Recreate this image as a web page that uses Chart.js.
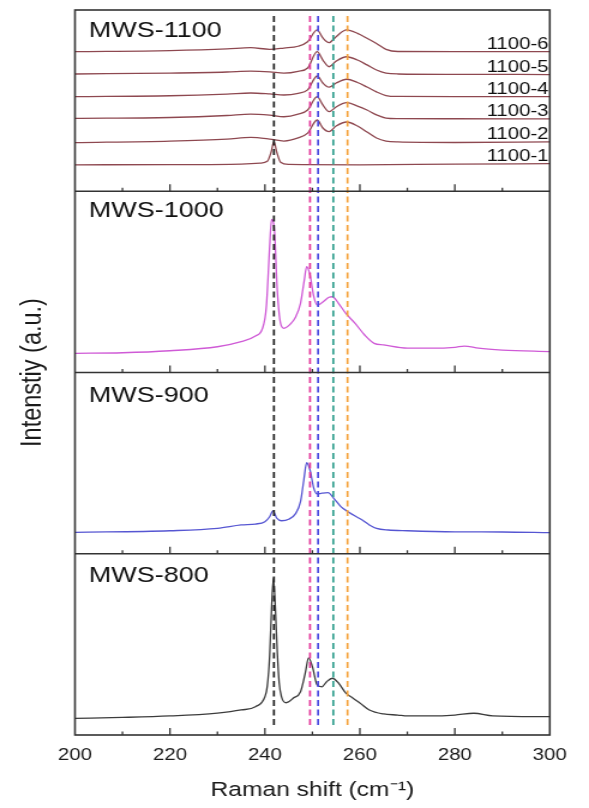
<!DOCTYPE html>
<html>
<head>
<meta charset="utf-8">
<script src="https://cdn.jsdelivr.net/npm/chart.js@4.4.1/dist/chart.umd.min.js"></script>
<style>
  html, body { margin: 0; padding: 0; background: #fff; }
</style>
</head>
<body>
<!-- drawn narrow and widened by css: the figure's lettering is wide -->
<canvas id="ramanChart" width="491" height="808" style="display:block;width:589px;height:808px"></canvas>
<script>
// panels from bottom to top, each one unit tall on the y scale
const panelNames = ['MWS-800', 'MWS-900', 'MWS-1000', 'MWS-1100'];
const xTicks = [200, 220, 240, 260, 280, 300];

// MWS-800
const shift800 = [200, 210, 220, 230, 235, 238, 240, 240.5, 241, 241.4, 241.8, 242.2, 242.6, 243, 243.5, 244.5, 246, 247.5, 248.5, 249.2, 250, 251, 252, 253, 254.2, 255.5, 257, 258.5, 260, 262, 265, 268, 270, 275, 280, 284, 288, 300];
const int800 = [0.092, 0.097, 0.105, 0.121, 0.138, 0.156, 0.211, 0.27, 0.436, 0.70, 0.865, 0.70, 0.46, 0.29, 0.21, 0.178, 0.204, 0.239, 0.342, 0.425, 0.377, 0.276, 0.266, 0.294, 0.313, 0.287, 0.232, 0.204, 0.177, 0.138, 0.116, 0.110, 0.105, 0.105, 0.110, 0.120, 0.106, 0.101];

// MWS-900
const shift900 = [200, 220, 230, 235, 238, 240, 241, 241.7, 242.5, 243.5, 245, 246.5, 247.5, 248.2, 248.8, 249.5, 250.3, 251, 252, 253.3, 254.5, 256, 257.5, 259, 260.5, 262, 263.5, 266, 270, 280, 290, 300];
const int900 = [0.118, 0.127, 0.140, 0.159, 0.164, 0.177, 0.204, 0.237, 0.196, 0.182, 0.190, 0.223, 0.287, 0.407, 0.502, 0.462, 0.361, 0.330, 0.334, 0.337, 0.306, 0.260, 0.232, 0.208, 0.186, 0.159, 0.140, 0.131, 0.127, 0.121, 0.120, 0.116];

// MWS-1000
const shift1000 = [200, 210, 220, 230, 235, 238, 239.5, 240.3, 241, 241.4, 242, 242.6, 243.3, 244, 245.5, 246.5, 247.5, 248.3, 248.8, 249.5, 250.3, 251, 252, 253.5, 254.2, 255.5, 257, 259, 261, 263, 265, 270, 275, 280, 282, 285, 290, 300];
const int1000 = [0.106, 0.109, 0.120, 0.142, 0.170, 0.201, 0.244, 0.363, 0.694, 0.845, 0.786, 0.455, 0.271, 0.244, 0.271, 0.308, 0.382, 0.510, 0.584, 0.538, 0.418, 0.372, 0.385, 0.415, 0.418, 0.382, 0.327, 0.271, 0.207, 0.161, 0.152, 0.134, 0.134, 0.139, 0.146, 0.134, 0.124, 0.115];

// MWS-1100 series, already stacked inside the top panel
const traceNames = ['1100-1', '1100-2', '1100-3', '1100-4', '1100-5', '1100-6'];
const shift1100a = [200, 220, 235, 239, 240.5, 241.3, 241.9, 242.5, 243.3, 245, 260, 280, 300];
const int1100_1 = [0.146, 0.147, 0.150, 0.155, 0.165, 0.215, 0.273, 0.215, 0.160, 0.148, 0.146, 0.150, 0.152];
const shift1100 = [200, 220, 232, 237, 241, 244, 247, 249, 251, 252.2, 253.5, 255, 257.2, 259.5, 261.5, 263.5, 265.5, 268, 280, 300];
const int1100_2 = [0.268, 0.277, 0.288, 0.297, 0.288, 0.277, 0.294, 0.321, 0.393, 0.349, 0.329, 0.360, 0.382, 0.360, 0.327, 0.294, 0.277, 0.272, 0.269, 0.272];
const int1100_3 = [0.402, 0.407, 0.418, 0.426, 0.420, 0.411, 0.425, 0.448, 0.522, 0.476, 0.439, 0.465, 0.489, 0.470, 0.448, 0.421, 0.404, 0.401, 0.400, 0.399];
const int1100_4 = [0.522, 0.527, 0.536, 0.542, 0.537, 0.531, 0.540, 0.559, 0.636, 0.597, 0.574, 0.597, 0.618, 0.600, 0.575, 0.548, 0.528, 0.523, 0.522, 0.522];
const int1100_5 = [0.647, 0.652, 0.658, 0.663, 0.659, 0.652, 0.662, 0.680, 0.770, 0.724, 0.687, 0.718, 0.742, 0.724, 0.697, 0.669, 0.652, 0.647, 0.645, 0.644];
const int1100_6 = [0.770, 0.776, 0.785, 0.792, 0.783, 0.790, 0.800, 0.825, 0.890, 0.846, 0.820, 0.853, 0.890, 0.871, 0.844, 0.815, 0.783, 0.771, 0.770, 0.770];

// reference band positions (cm-1)
const markShifts = [241.9, 249.5, 251.2, 254.4, 257.4];
const markColors = ['#1c1c1c', '#e3379b', '#4b4be0', '#2e9d8c', '#f5a33c'];
const markBottom = 0.055;
const markTop = 3.985;

const toPoints = (xs, ys, base) => xs.map((x, i) => ({ x: x, y: base + ys[i] }));

function spectrum(xs, ys, base, color) {
  return {
    data: toPoints(xs, ys, base),
    borderColor: color,
    borderWidth: 1.3,
    pointRadius: 0,
    cubicInterpolationMode: 'monotone',
    order: 1
  };
}

const topTraces = [
  [shift1100a, int1100_1], [shift1100, int1100_2], [shift1100, int1100_3],
  [shift1100, int1100_4], [shift1100, int1100_5], [shift1100, int1100_6]
];

const datasets = [];
markShifts.forEach((s, i) => {
  datasets.push({
    data: [{ x: s, y: markBottom }, { x: s, y: markTop }],
    borderColor: markColors[i],
    borderWidth: 1.7,
    borderDash: [6, 3.5],
    pointRadius: 0,
    order: 0
  });
});
datasets.push(spectrum(shift800, int800, 0, '#3c3c3c'));
datasets.push(spectrum(shift900, int900, 1, '#5656d2'));
datasets.push(spectrum(shift1000, int1000, 2, '#cf5ad6'));
topTraces.forEach(t => datasets.push(spectrum(t[0], t[1], 3, '#8e4850')));

// cap-centre drop of each panel name below its panel top
const nameDrop = [20.7, 21.5, 17.5, 18.7];

const panelFrame = {
  id: 'panelFrame',
  afterDatasetsDraw(chart) {
    const { ctx, chartArea: a, scales: { x, y } } = chart;
    ctx.save();
    ctx.strokeStyle = '#333';
    ctx.lineWidth = 1.6;
    ctx.strokeRect(a.left, a.top, a.right - a.left, a.bottom - a.top);
    for (let p = 1; p < panelNames.length; p++) {
      const py = y.getPixelForValue(p);
      ctx.beginPath();
      ctx.moveTo(a.left, py);
      ctx.lineTo(a.right, py);
      ctx.stroke();
    }
    // inward ticks along every panel bottom
    ctx.lineWidth = 1.3;
    for (let p = 0; p < panelNames.length; p++) {
      const py = y.getPixelForValue(p);
      for (let v = 210; v < 300; v += 10) {
        const px = x.getPixelForValue(v);
        const len = v % 20 === 0 ? 7 : 3.5;
        ctx.beginPath();
        ctx.moveTo(px, py);
        ctx.lineTo(px, py - len);
        ctx.stroke();
      }
    }
    // panel names
    ctx.fillStyle = '#111';
    ctx.textBaseline = 'alphabetic';
    ctx.textAlign = 'left';
    ctx.font = '22.5px "Liberation Sans", Arial, sans-serif';
    panelNames.forEach((name, p) => {
      const top = y.getPixelForValue(p + 1);
      ctx.fillText(name, a.left + 11.5, top + nameDrop[p] + 8);
    });
    // trace names at the right end of each top-panel curve
    ctx.textAlign = 'right';
    ctx.font = '17px "Liberation Sans", Arial, sans-serif';
    topTraces.forEach((t, i) => {
      const last = t[1][t[1].length - 1];
      ctx.fillText(traceNames[i], a.right - 1, y.getPixelForValue(3 + last) - 3);
    });
    ctx.restore();
  }
};

Chart.defaults.font.family = '"Liberation Sans", Arial, sans-serif';
Chart.defaults.color = '#1a1a1a';

new Chart(document.getElementById('ramanChart'), {
  type: 'line',
  data: { datasets: datasets },
  options: {
    responsive: false,
    animation: false,
    layout: { padding: { top: 10, right: 32.7, bottom: 0, left: 0 } },
    plugins: { legend: { display: false }, tooltip: { enabled: false } },
    scales: {
      x: {
        type: 'linear',
        min: 200,
        max: 300,
        afterBuildTicks: scale => { scale.ticks = xTicks.map(v => ({ value: v })); },
        afterFit: scale => { scale.height = 73; },
        grid: { display: false, drawTicks: false },
        border: { display: false },
        ticks: { font: { size: 17 }, padding: 10, maxRotation: 0 },
        title: {
          display: true,
          text: 'Raman shift (cm\u207B\u00B9)',
          font: { size: 20.5 },
          padding: { top: 0, bottom: 5 }
        }
      },
      y: {
        type: 'linear',
        min: 0,
        max: 4,
        afterFit: scale => { scale.width = 62.5; },
        grid: { display: false, drawTicks: false },
        border: { display: false },
        ticks: { display: false },
        title: {
          display: true,
          text: 'Intenstiy (a.u.)',
          font: { size: 23.5 },
          padding: { top: 13, bottom: 0 }
        }
      }
    }
  },
  plugins: [panelFrame]
});
</script>
</body>
</html>
